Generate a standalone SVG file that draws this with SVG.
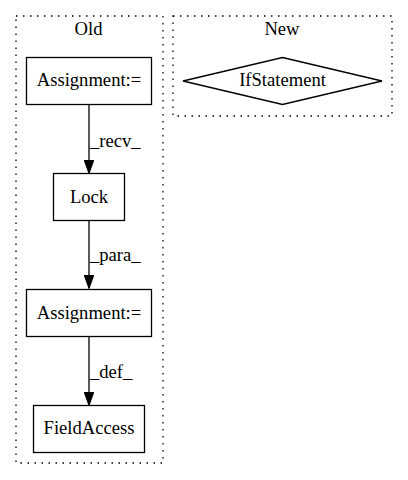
<svg xmlns="http://www.w3.org/2000/svg" width="408" height="480" viewBox="0 0 408 480">
<style>
text{font-family:"Liberation Serif","Times New Roman",serif;font-size:18.6px;fill:#000}
.c{text-anchor:middle}
.cl{fill:none;stroke:#000;stroke-width:1.3;stroke-dasharray:1.5,5.5}
.n{fill:none;stroke:#000;stroke-width:1.3}
.e{fill:none;stroke:#000;stroke-width:1.3}
</style>
<defs>
<marker id="ah" markerWidth="14" markerHeight="10" refX="13" refY="5" orient="auto" markerUnits="userSpaceOnUse">
<path d="M0.5,0.5 L13,5 L0.5,9.5 Z" fill="#000" stroke="#000" stroke-width="1.3"/>
</marker>
</defs>
<rect width="408" height="480" fill="#fff"/>
<g id="cluster_old">
<rect class="cl" x="16" y="16" width="147" height="447"/>
<text class="c" x="88.5" y="35">Old</text>
</g>
<g id="cluster_new">
<rect class="cl" x="173" y="16" width="219" height="100"/>
<text class="c" x="282" y="35">New</text>
</g>
<g id="connectors">
<path class="e" d="M89,105 L89,173" marker-end="url(#ah)"/>
<text x="90" y="147">_recv_</text>
<path class="e" d="M89,221 L89,288" marker-end="url(#ah)"/>
<text x="90" y="261">_para_</text>
<path class="e" d="M89,337 L89,405" marker-end="url(#ah)"/>
<text x="90" y="378">_def_</text>
</g>
<g id="assign1">
<rect class="n" x="26.5" y="57.5" width="125" height="47"/>
<text class="c" x="89" y="86">Assignment:=</text>
</g>
<g id="lock">
<rect class="n" x="53.5" y="173.5" width="71" height="47"/>
<text class="c" x="89" y="202.5">Lock</text>
</g>
<g id="assign2">
<rect class="n" x="26.5" y="289.5" width="125" height="47"/>
<text class="c" x="89" y="318.5">Assignment:=</text>
</g>
<g id="fieldaccess">
<rect class="n" x="33.5" y="405.5" width="111" height="47"/>
<text class="c" x="89" y="434">FieldAccess</text>
</g>
<g id="ifstatement">
<polygon class="n" points="282.5,57.5 382,81 282.5,104.5 183,81"/>
<text class="c" x="282.5" y="86">IfStatement</text>
</g>
</svg>
